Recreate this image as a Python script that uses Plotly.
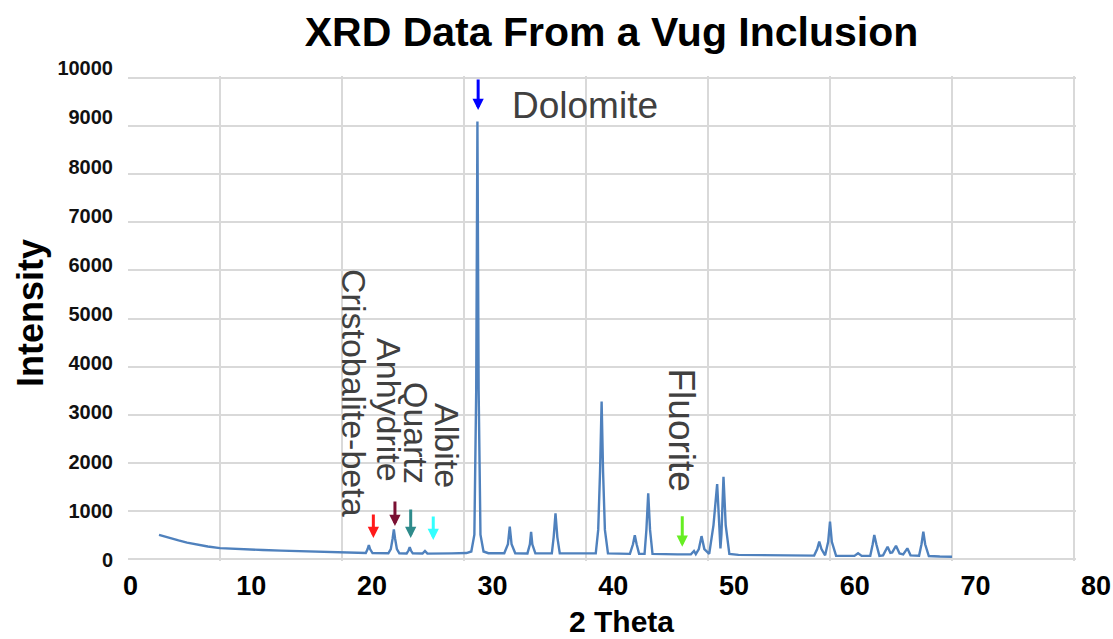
import plotly.graph_objects as go

# ---------------- data ----------------
two_theta = [
    5.0, 5.5, 6.0, 6.6, 7.3, 8.2, 9.0, 10.0, 11.0, 12.0, 13.5, 15.0, 16.5, 17.6, 19.0, 20.0, 21.5,
    21.95, 22.1, 22.2, 22.3, 22.5,
    23.8, 24.0, 24.15, 24.25, 24.35, 24.5, 24.7,
    25.3, 25.45, 25.55, 25.65, 25.8,
    26.6, 26.8, 27.0, 28.0, 29.0, 30.2,
    30.6, 30.85, 31.0, 31.1, 31.2, 31.35, 31.6,
    32.0, 33.3, 33.6, 33.75, 33.9, 34.2,
    35.2, 35.4, 35.5, 35.6, 35.85,
    37.2, 37.35, 37.5, 37.65, 37.85,
    40.8, 41.0, 41.15, 41.28, 41.4, 41.55, 41.8,
    43.6, 43.85, 44.0, 44.15, 44.35,
    44.8, 44.95, 45.1, 45.25, 45.45,
    46.0, 47.5, 48.6, 48.85, 49.0,
    49.25, 49.47, 49.7, 50.1,
    50.45, 50.75, 50.95, 51.02, 51.1, 51.27, 51.45, 51.75,
    52.5, 54.0, 56.0, 58.7,
    58.95, 59.12, 59.3, 59.6, 59.85, 60.0, 60.15, 60.5,
    62.0, 62.3, 62.6, 63.3, 63.5, 63.63, 63.8, 64.05,
    64.35, 64.72, 64.95, 65.1, 65.41, 65.7, 66.0, 66.34, 66.6,
    67.3, 67.5, 67.65, 67.8, 68.1, 69.0, 70.0,
]
intensity = [
    495, 455, 420, 380, 335, 290, 255, 220, 205, 195, 180, 168, 155, 146, 135, 125, 119,
    118, 200, 285, 200, 118,
    113, 200, 420, 610, 420, 200, 112,
    110, 170, 240, 170, 110,
    108, 160, 106, 104, 110, 118,
    150, 500, 3500, 9100, 3500, 500, 150,
    115, 112, 300, 666, 300, 112,
    110, 300, 560, 300, 110,
    110, 450, 945, 450, 110,
    110, 600, 1800, 3270, 1800, 600, 110,
    100, 300, 490, 300, 100,
    100, 600, 1360, 600, 100,
    95, 90, 92, 160, 95,
    200, 470, 200, 100,
    700, 1555, 400, 216, 500, 1707, 700, 100,
    80, 75, 70, 65,
    200, 354, 200, 70, 350, 770, 350, 60,
    58, 112, 58, 60, 300, 493, 300, 60,
    70, 250, 120, 130, 270, 110, 90, 216, 70,
    60, 300, 562, 300, 55, 45, 40,
]

x_tick_values = [0, 10, 20, 30, 40, 50, 60, 70, 80]
y_tick_values = [0, 1000, 2000, 3000, 4000, 5000, 6000, 7000, 8000, 9000, 10000]
x_tick_text = [str(v) for v in x_tick_values]
y_tick_text = [str(v) for v in y_tick_values]

phase_names = ["Cristobalite-beta", "Anhydrite", "Quartz", "Albite", "Dolomite", "Fluorite"]
phase_two_theta = [22.57, 24.34, 25.63, 27.48, 31.16, 47.89]
phase_intensity = [431, 681, 431, 389, 9340, 250]
phase_colors = ["#ff1a1a", "#7a1033", "#2e8b8b", "#33ffff", "#0000ff", "#66ee22"]

# ---------------- figure ----------------
W, H = 1113, 639
ML, MR, MT, MB = 128, 3, 60, 69
PW, PH = W - ML - MR, H - MT - MB


def px_x(p):
    return (p - ML) / PW


def px_y(p):
    return (H - MB - p) / PH


fig = go.Figure()
fig.add_trace(go.Scatter(
    x=two_theta, y=intensity, mode="lines",
    line=dict(color="#4f81bd", width=2.4),
    hoverinfo="skip", showlegend=False,
))
# empty trace so that the tick-label axes are drawn
fig.add_trace(go.Scatter(x=[], y=[], xaxis="x2", yaxis="y2", mode="lines",
                         hoverinfo="skip", showlegend=False))

grid = "#d9d9d9"
# main axes: gridlines at 10..80 / 0..10000, plot area edges 2 px outside those
x_per_px = 10 / 122.0
y_per_px = 10000 / 480.4
fig.update_layout(
    width=W, height=H, autosize=False,
    margin=dict(l=ML, r=MR, t=MT, b=MB, pad=0),
    paper_bgcolor="white", plot_bgcolor="rgba(0,0,0,0)",
    font=dict(family="Arial, Liberation Sans, sans-serif", color="#000000"),
    showlegend=False,
    xaxis=dict(domain=[0, px_x(1076)], range=[10 - 92 * x_per_px, 80 + 2 * x_per_px],
               tickmode="array", tickvals=x_tick_values, showticklabels=False, ticks="",
               showgrid=True, gridcolor=grid, gridwidth=1.5, zeroline=False, showline=False),
    yaxis=dict(domain=[px_y(560.7), px_y(76.3)], range=[-2 * y_per_px, 10000 + 2 * y_per_px],
               tickmode="array", tickvals=y_tick_values, showticklabels=False, ticks="",
               showgrid=True, gridcolor=grid, gridwidth=1.5, zeroline=False, showline=False),
    xaxis2=dict(domain=[0, 1], range=[-0.207, 81.15], anchor="free", position=px_y(558.7),
                side="bottom", tickmode="array", tickvals=x_tick_values, ticktext=x_tick_text,
                ticks="", ticklabelstandoff=8,
                showgrid=False, zeroline=False, showline=False,
                tickfont=dict(size=27, weight="bold", color="#000000")),
    yaxis2=dict(domain=[0, 1], range=[-203.4, 10169], anchor="free", position=0,
                side="left", tickmode="array", tickvals=y_tick_values, ticktext=y_tick_text,
                ticks="", ticklabelstandoff=15,
                showgrid=False, zeroline=False, showline=False,
                tickfont=dict(size=20, weight="bold", color="#111111")),
    title=dict(text="XRD Data From a Vug Inclusion", x=611.5 / W, xref="container",
               xanchor="center", y=1 - 32 / H, yref="container", yanchor="middle",
               font=dict(size=41, weight="bold", color="#000000")),
)

ann = []
ann.append(dict(text="Intensity", xref="paper", yref="paper", x=px_x(30), y=px_y(313),
                textangle=-90, showarrow=False, xanchor="center", yanchor="middle",
                font=dict(size=36, weight="bold", color="#000000")))
ann.append(dict(text="2 Theta", xref="paper", yref="paper", x=px_x(621), y=px_y(621),
                showarrow=False, xanchor="center", yanchor="middle",
                font=dict(size=30, weight="bold", color="#000000")))

# arrows
arrow_len = [25, 26, 30, 25, 32, 32]
for xv, yv, c, L in zip(phase_two_theta, phase_intensity, phase_colors, arrow_len):
    ann.append(dict(x=xv, y=yv, xref="x", yref="y", text="", showarrow=True,
                    ax=0, ay=-L, axref="pixel", ayref="pixel",
                    arrowhead=2, arrowwidth=3, arrowsize=0.75, arrowcolor=c))

# phase labels (vertical text reads top-to-bottom)
label_pos = {
    "Cristobalite-beta": (20.94, 3439, 90, 34),
    "Anhydrite": (23.85, 3095, 90, 34),
    "Quartz": (26.07, 2617, 90, 34),
    "Albite": (28.65, 2356, 90, 34),
    "Dolomite": (39.92, 9444, 0, 37),
    "Fluorite": (47.79, 2689, 90, 37),
}
for name in phase_names:
    lx, ly, ang, fs = label_pos[name]
    ann.append(dict(text=name, x=lx, y=ly, xref="x", yref="y", showarrow=False,
                    textangle=ang, xanchor="center", yanchor="middle",
                    font=dict(size=fs, color="#404040")))

fig.update_layout(annotations=ann)
fig.write_html("out.html")
